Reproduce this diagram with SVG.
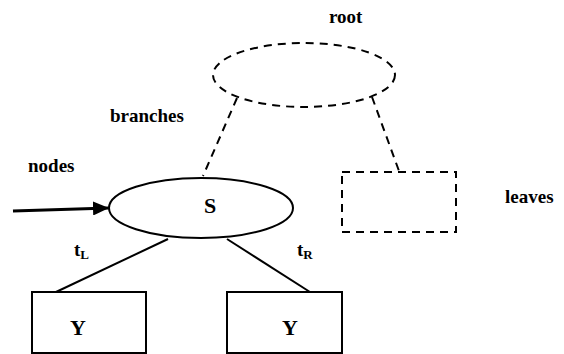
<svg xmlns="http://www.w3.org/2000/svg" width="564" height="354" viewBox="0 0 564 354">
  <style>
    .lbl { font-family: "Liberation Serif", "Times New Roman", serif; font-weight: bold; font-size: 19px; fill: #000; }
    .big { font-size: 22px; }
    .sub { font-size: 13px; }
    .solid { fill: #fff; stroke: #000; stroke-width: 2; }
    .dash { fill: none; stroke: #000; stroke-width: 2; stroke-dasharray: 8 6; }
    .edge { fill: none; stroke: #000; stroke-width: 2; }
  </style>
  <defs>
    <marker id="arrow" viewBox="0 0 16 14" refX="16" refY="7" markerWidth="16" markerHeight="14" markerUnits="userSpaceOnUse" orient="auto">
      <path d="M0,0 L16,7 L0,14 Z" fill="#000"/>
    </marker>
  </defs>
  <rect width="564" height="354" fill="#fff"/>

  <!-- connectors -->
  <g id="connectors">
    <line class="dash" x1="237" y1="98" x2="203" y2="176"/>
    <line class="dash" x1="372" y1="97" x2="399" y2="171"/>
    <line class="edge" x1="168" y1="239" x2="56" y2="292"/>
    <line class="edge" x1="227" y1="239" x2="310" y2="292"/>
    <line x1="13" y1="211" x2="109" y2="208" stroke="#000" stroke-width="3" marker-end="url(#arrow)"/>
  </g>

  <!-- root -->
  <g id="root">
    <ellipse class="dash" cx="304" cy="75" rx="91" ry="32"/>
  </g>

  <!-- split node S -->
  <g id="node-s">
    <ellipse class="solid" cx="201" cy="208" rx="92" ry="30"/>
    <text class="lbl big" x="210" y="213" text-anchor="middle">S</text>
  </g>

  <!-- leaf placeholder -->
  <g id="leaf">
    <rect class="dash" x="342" y="172" width="114" height="60"/>
  </g>

  <!-- outcome boxes -->
  <g id="left-y">
    <rect class="solid" x="32" y="292" width="114" height="61"/>
    <text class="lbl big" x="78" y="335" text-anchor="middle">Y</text>
  </g>
  <g id="right-y">
    <rect class="solid" x="227" y="292" width="115" height="61"/>
    <text class="lbl big" x="290" y="335" text-anchor="middle">Y</text>
  </g>

  <!-- labels -->
  <g id="labels">
    <text class="lbl" x="329" y="23">root</text>
    <text class="lbl" x="110" y="122">branches</text>
    <text class="lbl" x="28" y="172">nodes</text>
    <text class="lbl" x="505" y="203">leaves</text>
    <text class="lbl" x="74" y="256">t<tspan class="sub" dy="3">L</tspan></text>
    <text class="lbl" x="297" y="256">t<tspan class="sub" dy="3">R</tspan></text>
  </g>
</svg>
